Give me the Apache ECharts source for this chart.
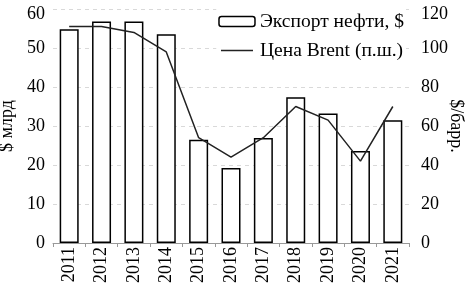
<!DOCTYPE html>
<html><head><meta charset="utf-8">
<script src="https://cdn.jsdelivr.net/npm/echarts@6/dist/echarts.min.js"></script>
<style>html,body{margin:0;padding:0;background:#fff}#c{width:468px;height:284px}</style>
</head><body><div id="c"></div>
<script>
const years = ['2011','2012','2013','2014','2015','2016','2017','2018','2019','2020','2021'];
const exportValues = [54.8, 56.8, 56.8, 53.5, 26.5, 19.2, 26.9, 37.4, 33.2, 23.6, 31.5];
const brentValues = [111, 111, 108, 98, 54, 44, 54, 70, 63, 42, 70];
const leftTicks = [0, 10, 20, 30, 40, 50, 60];
const rightTicks = [0, 20, 40, 60, 80, 100, 120];
const font = 'Liberation Serif';
const topShift = {t: {padding: [10, 0, 0, 0], fontFamily: font, fontSize: 18, color: '#000'}};
const chart = echarts.init(document.getElementById('c'));
chart.setOption({
  animation: false,
  backgroundColor: '#fff',
  grid: {left: 53, right: 59, top: 9, bottom: 41, outerBoundsMode: 'none', containLabel: false},
  legend: {
    orient: 'vertical', right: 62, top: 7, itemGap: 8,
    itemWidth: 36, itemHeight: 10,
    backgroundColor: '#fff', padding: [4, 2, 4, 2],
    textStyle: {fontFamily: font, fontSize: 19.5, color: '#000', lineHeight: 21},
    data: [
      {name: 'Экспорт нефти, $', itemStyle: {color: '#fff', borderColor: '#000', borderWidth: 1.5}},
      {name: 'Цена Brent (п.ш.)', icon: 'path://M0,0 M32,10 M0,4.3 L32,4.3 L32,5.7 L0,5.7 Z',
       itemStyle: {color: '#222', borderWidth: 0}}
    ]
  },
  xAxis: {
    type: 'category', data: years,
    axisLine: {lineStyle: {color: '#999', width: 1}},
    axisTick: {show: true, length: 4, lineStyle: {color: '#999'}},
    axisLabel: {rotate: 90, fontFamily: font, fontSize: 18, color: '#000', margin: 4}
  },
  yAxis: [
    {type: 'value', min: leftTicks[0], max: leftTicks[leftTicks.length-1], interval: 10,
     name: '$ млрд', nameLocation: 'middle', nameGap: 35,
     nameTextStyle: {fontFamily: font, fontSize: 18, color: '#000'},
     axisLine: {show: false}, axisTick: {show: false},
     axisLabel: {fontFamily: font, fontSize: 18, color: '#000', margin: 8,
       formatter: v => v === 60 ? '{t|' + v + '}' : String(v), rich: topShift},
     splitLine: {lineStyle: {color: '#d9d9d9', type: [4, 4], width: 1}}},
    {type: 'value', min: rightTicks[0], max: rightTicks[rightTicks.length-1], interval: 20,
     name: '$/барр.', nameLocation: 'middle', nameGap: 38, nameRotate: -90, nameMoveOverlap: false,
     nameTextStyle: {fontFamily: font, fontSize: 18, color: '#000'},
     axisLine: {show: false}, axisTick: {show: false},
     axisLabel: {fontFamily: font, fontSize: 18, color: '#000', margin: 12,
       formatter: v => v === 120 ? '{t|' + v + '}' : String(v), rich: topShift},
     splitLine: {show: false}}
  ],
  series: [
    {name: 'Экспорт нефти, $', type: 'bar', data: exportValues, barWidth: 19,
     itemStyle: {color: '#fff', borderColor: '#000', borderWidth: 1.5}},
    {name: 'Цена Brent (п.ш.)', type: 'line', yAxisIndex: 1, data: brentValues,
     symbol: 'none', lineStyle: {color: '#222', width: 1.5}, itemStyle: {color: '#222'}}
  ]
});
</script></body></html>
